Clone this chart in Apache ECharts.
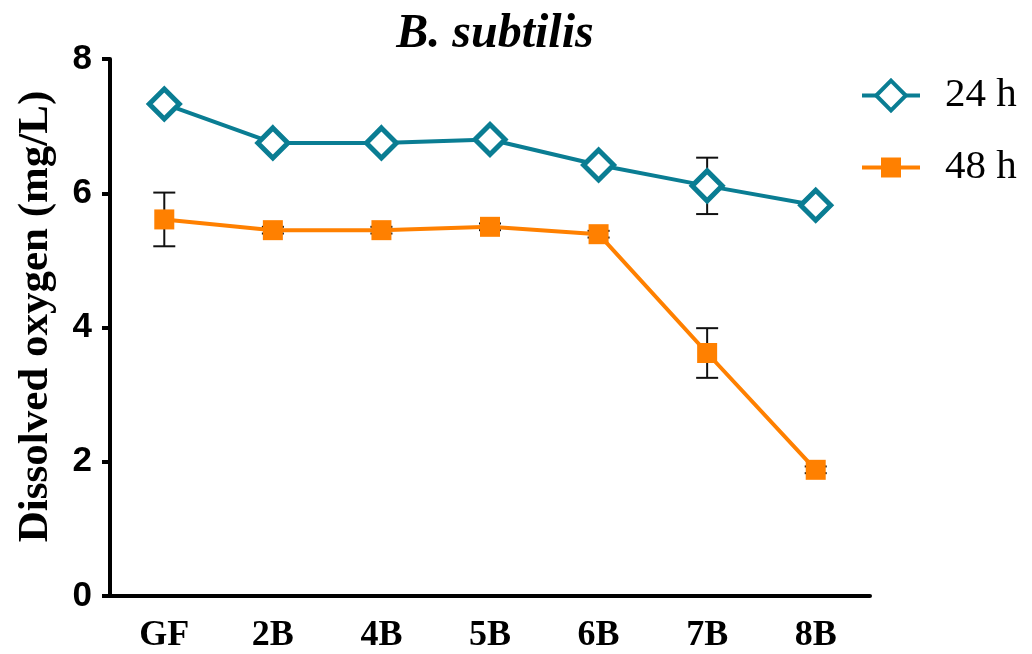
<!DOCTYPE html>
<html><head><meta charset="utf-8">
<script src="https://cdn.jsdelivr.net/npm/echarts@6/dist/echarts.min.js"></script>
<style>html,body{margin:0;padding:0;background:#fff}#c{width:1032px;height:654px}</style>
</head><body><div id="c"></div>
<script>
const categories = ['GF','2B','4B','5B','6B','7B','8B'];
const yTicks = [0,2,4,6,8];
const s24 = [7.33,6.75,6.75,6.80,6.42,6.11,5.82];
const e24 = [0.05,0.05,0.05,0.05,0.05,0.42,0.05];
const s48 = [5.61,5.45,5.45,5.50,5.39,3.62,1.88];
const e48 = [0.40,0.05,0.05,0.05,0.05,0.37,0.05];
const names = ['24 h','48 h'];
const teal = '#0a7d93', orange = '#ff8000';

function errData(vals, errs){ return vals.map((v,i)=>[i, v-errs[i], v+errs[i]]); }
function errRender(params, api){
  const x = api.value(0);
  const lo = api.coord([x, api.value(1)]);
  const hi = api.coord([x, api.value(2)]);
  const w = 11;
  const st = {stroke:'#111', lineWidth:2, fill:null};
  return {type:'group', children:[
    {type:'line', shape:{x1:lo[0],y1:lo[1],x2:hi[0],y2:hi[1]}, style:st},
    {type:'line', shape:{x1:lo[0]-w,y1:lo[1],x2:lo[0]+w,y2:lo[1]}, style:st},
    {type:'line', shape:{x1:hi[0]-w,y1:hi[1],x2:hi[0]+w,y2:hi[1]}, style:st}
  ]};
}
const legendText = {fontFamily:'Liberation Serif', fontSize:41, color:'#000', padding:[0,0,0,20]};
const chart = echarts.init(document.getElementById('c'));
chart.setOption({
  animation:false,
  title:{text:'B. subtilis', left:490, top:6, textAlign:'center',
    textStyle:{fontFamily:'Liberation Serif', fontStyle:'italic', fontWeight:'bold', fontSize:48, color:'#000'}},
  legend:[
    {data:[names[0]], left:860, top:75, padding:0, itemWidth:58, itemHeight:37,
      lineStyle:{width:4}, itemStyle:{borderWidth:4}, textStyle:legendText},
    {data:[names[1]], left:860, top:147, padding:0, itemWidth:58, itemHeight:25,
      lineStyle:{width:4}, itemStyle:{borderWidth:0}, textStyle:legendText}
  ],
  grid:{left:110, right:162, top:59, bottom:56, containLabel:false},
  xAxis:{type:'category', data:categories, boundaryGap:true,
    axisLine:{lineStyle:{color:'#000', width:4}},
    axisTick:{alignWithLabel:true, length:10, lineStyle:{color:'#000', width:4}},
    axisLabel:{fontFamily:'Liberation Serif', fontWeight:'bold', fontSize:36, color:'#000', margin:22}},
  yAxis:{type:'value', min:0, max:8, interval:2,
    name:'Dissolved oxygen (mg/L)', nameLocation:'middle', nameGap:53,
    nameTextStyle:{fontFamily:'Liberation Serif', fontWeight:'bold', fontSize:43, color:'#000', padding:[0,0,0,22]},
    axisLine:{show:true, lineStyle:{color:'#000', width:4}},
    axisTick:{show:true, length:8, lineStyle:{color:'#000', width:4}},
    splitLine:{show:false},
    axisLabel:{fontFamily:'Liberation Sans', fontWeight:'bold', fontSize:35, color:'#000', margin:18,
      formatter:v=>yTicks.includes(v)?String(v):''}},
  series:[
    {type:'custom', renderItem:errRender, data:errData(s24,e24), z:1, silent:true},
    {type:'custom', renderItem:errRender, data:errData(s48,e48), z:1, silent:true},
    {name:names[0], type:'line', data:s24, z:3, symbol:'diamond', symbolSize:30,
      lineStyle:{color:teal, width:4}, itemStyle:{color:'#fff', borderColor:teal, borderWidth:5}},
    {name:names[1], type:'line', data:s48, z:3, symbol:'rect', symbolSize:20,
      lineStyle:{color:orange, width:4}, itemStyle:{color:orange}}
  ]
});
</script></body></html>
